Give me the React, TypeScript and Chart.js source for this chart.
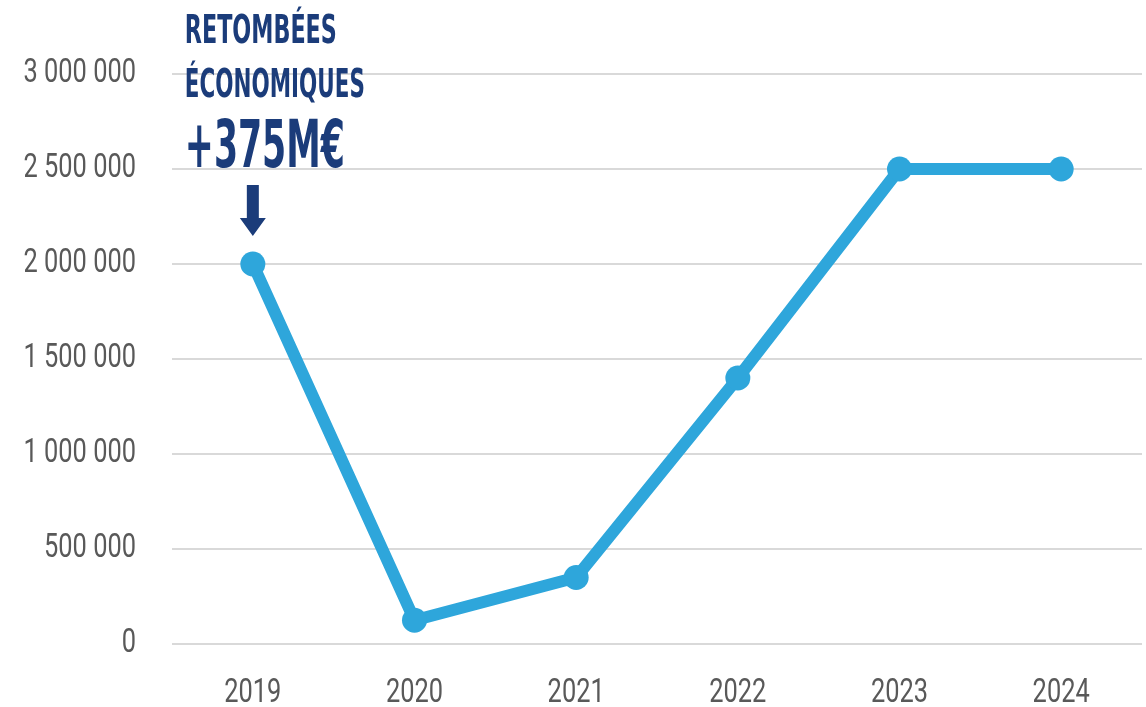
import React, { useEffect, useRef } from 'react';
import { Chart, registerables } from 'chart.js';

Chart.register(...registerables);

const years: string[] = ['2019', '2020', '2021', '2022', '2023', '2024'];
const values: number[] = [2000000, 125000, 350000, 1400000, 2500000, 2500000];
const yMin = 0;
const yMax = 3000000;
const yStep = 500000;
const annotationLines: string[] = ['RETOMBÉES', 'ÉCONOMIQUES'];
const annotationValue = '+375M€';

const LINE_COLOR = '#2ea6db';
const DARK_BLUE = '#1b3c7a';
const TICK_COLOR = '#595959';
const GRID_COLOR = '#d9d9d9';
const TICK_FONT = "Roboto, 'DejaVu Sans', sans-serif";
const TITLE_FONT = "'DejaVu Sans Condensed', 'DejaVu Sans', sans-serif";
const TICK_SQUEEZE = 0.77;

const formatNumber = (v: number): string =>
  String(Math.round(v)).replace(/\B(?=(\d{3})+(?!\d))/g, ' ');

// Draw the scale's own labels horizontally condensed (the reference uses a condensed face).
function condenseLabels(scale: any, k: number) {
  if (scale.__condensed) return;
  scale.__condensed = true;
  const orig = scale.drawLabels.bind(scale);
  scale.drawLabels = function (area: any) {
    const ctx: any = this.ctx;
    const proto = Object.getPrototypeOf(ctx);
    const fill = proto.fillText;
    ctx.fillText = function (text: string, x: number, y: number) {
      ctx.save();
      ctx.translate(x, y);
      ctx.scale(k, 1);
      fill.call(ctx, text, 0, 0);
      ctx.restore();
    };
    try {
      orig(area);
    } finally {
      delete ctx.fillText;
    }
  };
}

function drawFitted(
  ctx: CanvasRenderingContext2D,
  text: string,
  x: number,
  baseline: number,
  size: number,
  targetWidth: number
) {
  ctx.save();
  ctx.font = `bold ${size}px ${TITLE_FONT}`;
  ctx.textAlign = 'left';
  ctx.textBaseline = 'alphabetic';
  const w = ctx.measureText(text).width;
  ctx.translate(x, baseline);
  ctx.scale(targetWidth / w, 1);
  ctx.fillText(text, 0, 0);
  ctx.restore();
}

const annotationPlugin = {
  id: 'annotationPlugin',
  afterDraw(chart: any) {
    const ctx: CanvasRenderingContext2D = chart.ctx;
    const xs = chart.scales.x;
    const ys = chart.scales.y;
    const px = xs.getPixelForValue(0);
    const py = ys.getPixelForValue(values[0]);
    ctx.save();
    ctx.fillStyle = DARK_BLUE;
    const left = px - 68;
    drawFitted(ctx, annotationLines[0], left, 43, 39, 152);
    drawFitted(ctx, annotationLines[1], left, 97, 39, 180);
    drawFitted(ctx, annotationValue, left, 167, 65, 160);
    // arrow
    const tip = py - 28;
    const shaftTop = tip - 51;
    const headTop = tip - 18;
    ctx.beginPath();
    ctx.moveTo(px - 6, shaftTop);
    ctx.lineTo(px + 6, shaftTop);
    ctx.lineTo(px + 6, headTop);
    ctx.lineTo(px + 13, headTop);
    ctx.lineTo(px, tip);
    ctx.lineTo(px - 13, headTop);
    ctx.lineTo(px - 6, headTop);
    ctx.closePath();
    ctx.fill();
    ctx.restore();
  },
};

export default function App() {
  const canvasRef = useRef<HTMLCanvasElement | null>(null);

  useEffect(() => {
    document.body.style.margin = '0';
    const canvas = canvasRef.current;
    if (!canvas) return;
    const chart = new Chart(canvas, {
      type: 'line',
      data: {
        labels: years,
        datasets: [
          {
            data: values,
            borderColor: LINE_COLOR,
            backgroundColor: LINE_COLOR,
            borderWidth: 12,
            borderJoinStyle: 'round',
            pointRadius: 12.5,
            pointHoverRadius: 12.5,
            pointBackgroundColor: LINE_COLOR,
            pointBorderWidth: 0,
            tension: 0,
            fill: false,
          },
        ],
      },
      options: {
        animation: false,
        responsive: false,
        devicePixelRatio: 1,
        layout: { autoPadding: false, padding: { top: 74, right: 4, left: 0, bottom: 0 } },
        plugins: {
          legend: { display: false },
          tooltip: { enabled: false },
          title: { display: false },
        },
        scales: {
          x: {
            type: 'category',
            offset: true,
            grid: { display: false, drawTicks: false },
            border: { display: false },
            ticks: {
              color: TICK_COLOR,
              font: { family: TICK_FONT, size: 33, weight: 400 },
              padding: 30,
              maxRotation: 0,
              autoSkip: false,
            },
            afterFit: (s: any) => {
              s.height = 63;
              s.paddingLeft = 0;
              s.paddingRight = 0;
              condenseLabels(s, TICK_SQUEEZE);
            },
          },
          y: {
            min: yMin,
            max: yMax,
            grid: { color: GRID_COLOR, lineWidth: 2, drawTicks: false },
            border: { display: false },
            ticks: {
              stepSize: yStep,
              color: TICK_COLOR,
              font: { family: TICK_FONT, size: 33, weight: 400 },
              padding: 36,
              callback: (v: any) => formatNumber(Number(v)),
            },
            afterFit: (s: any) => {
              s.width = 172;
              condenseLabels(s, TICK_SQUEEZE);
            },
          },
        },
      },
      plugins: [annotationPlugin],
    });
    return () => chart.destroy();
  }, []);

  return (
    <div style={{ width: 1146, height: 707 }}>
      <canvas ref={canvasRef} width={1146} height={707} style={{ display: 'block' }} />
    </div>
  );
}
